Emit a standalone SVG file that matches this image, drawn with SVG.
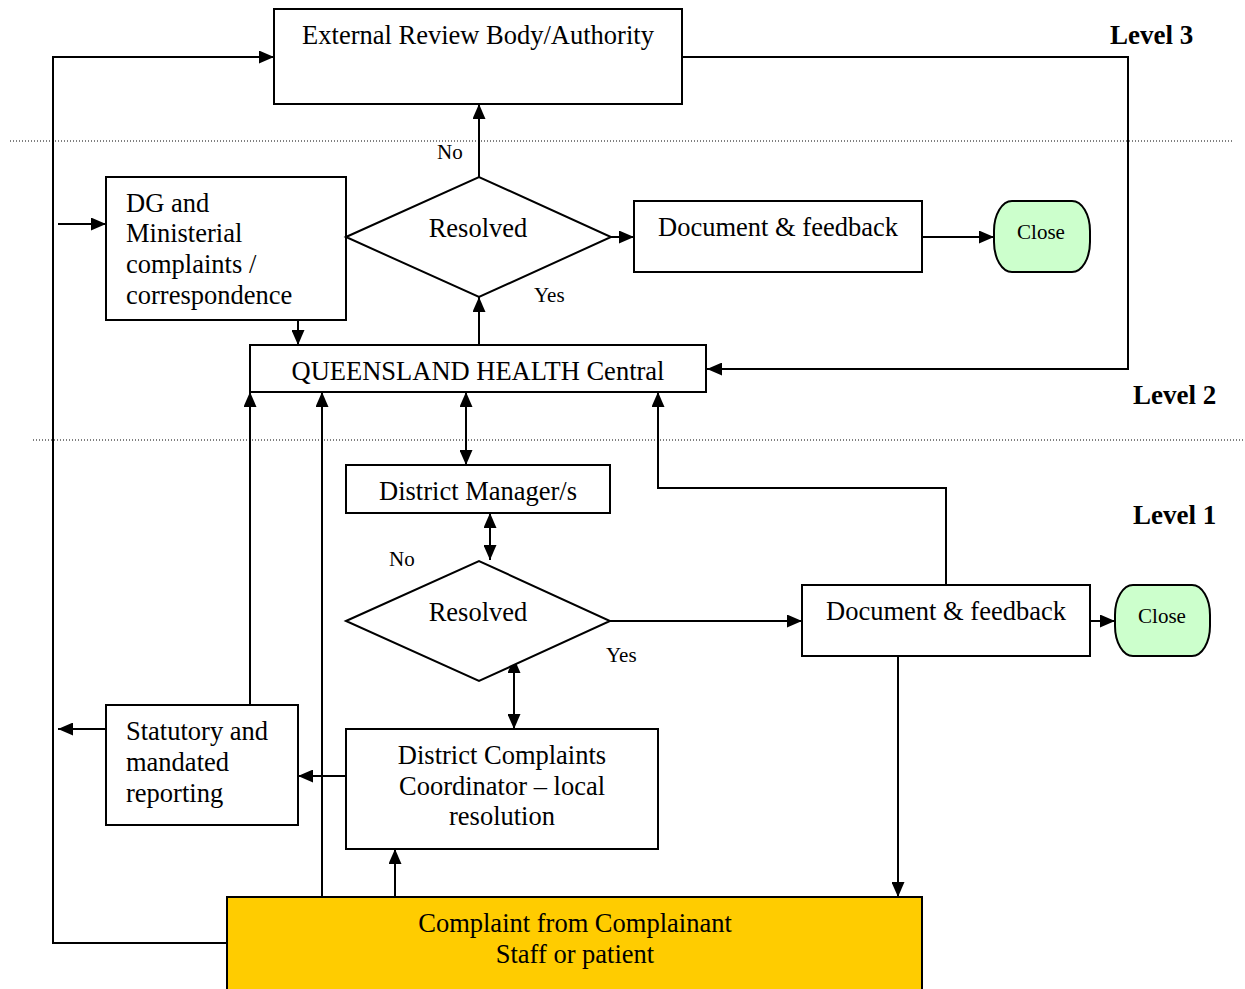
<svg xmlns="http://www.w3.org/2000/svg" width="1245" height="989" viewBox="0 0 1245 989">
  <style>
    .box { fill: #ffffff; stroke: #000000; stroke-width: 2; }
    .close { fill: #ccffcc; stroke: #000000; stroke-width: 2; }
    .complaint { fill: #ffcc00; stroke: #000000; stroke-width: 2; }
    .t { font-family: "Liberation Serif", "Times New Roman", serif; font-size: 26.5px; fill: #000000; }
    .mid { text-anchor: middle; }
    .lbl { font-family: "Liberation Serif", "Times New Roman", serif; font-size: 21px; fill: #000000; }
    .small { font-family: "Liberation Serif", "Times New Roman", serif; font-size: 21px; fill: #000000; text-anchor: middle; }
    .level { font-family: "Liberation Serif", "Times New Roman", serif; font-size: 27px; font-weight: bold; fill: #000000; }
    .wire { fill: none; stroke: #000000; stroke-width: 2; }
    .dots { fill: none; stroke: #000000; stroke-width: 1; stroke-dasharray: 1 2; }
  </style>
  <defs>
    <marker id="arrow" viewBox="0 0 15 13" refX="15" refY="6.5" markerWidth="15" markerHeight="13" markerUnits="userSpaceOnUse" orient="auto-start-reverse">
      <path d="M0,0 L15,6.5 L0,13 z" fill="#000000"/>
    </marker>
  </defs>

  <rect width="1245" height="989" fill="#ffffff"/>

  <!-- level separators -->
  <g id="levels">
    <line class="dots" x1="10" y1="141" x2="1232" y2="141"/>
    <line class="dots" x1="33" y1="440" x2="1245" y2="440"/>
    <text class="level" x="1110" y="44">Level 3</text>
    <text class="level" x="1133" y="404">Level 2</text>
    <text class="level" x="1133" y="524">Level 1</text>
  </g>

  <!-- connectors -->
  <g id="connectors">
    <!-- complaint escalated straight to external body -->
    <polyline class="wire" points="227,943 53,943 53,57 274,57" marker-end="url(#arrow)"/>
    <!-- external body back to QH Central -->
    <polyline class="wire" points="682,57 1128,57 1128,369 707,369" marker-end="url(#arrow)"/>
    <!-- into DG box -->
    <line class="wire" x1="58" y1="224" x2="106" y2="224" marker-end="url(#arrow)"/>
    <!-- upper decision -->
    <line class="wire" x1="479" y1="177" x2="479" y2="104" marker-end="url(#arrow)"/>
    <line class="wire" x1="611" y1="237" x2="634" y2="237" marker-end="url(#arrow)"/>
    <line class="wire" x1="922" y1="237" x2="994" y2="237" marker-end="url(#arrow)"/>
    <line class="wire" x1="479" y1="345" x2="479" y2="297" marker-end="url(#arrow)"/>
    <line class="wire" x1="298" y1="320" x2="298" y2="345" marker-end="url(#arrow)"/>
    <!-- into QH Central from below -->
    <line class="wire" x1="250" y1="705" x2="250" y2="392" marker-end="url(#arrow)"/>
    <line class="wire" x1="322" y1="897" x2="322" y2="392" marker-end="url(#arrow)"/>
    <line class="wire" x1="466" y1="392" x2="466" y2="465" marker-start="url(#arrow)" marker-end="url(#arrow)"/>
    <polyline class="wire" points="946,585 946,488 658,488 658,392" marker-end="url(#arrow)"/>
    <!-- district level -->
    <line class="wire" x1="490" y1="513" x2="490" y2="560" marker-start="url(#arrow)" marker-end="url(#arrow)"/>
    <line class="wire" x1="610" y1="621" x2="802" y2="621" marker-end="url(#arrow)"/>
    <line class="wire" x1="1090" y1="621" x2="1115" y2="621" marker-end="url(#arrow)"/>
    <line class="wire" x1="514" y1="658" x2="514" y2="729" marker-start="url(#arrow)" marker-end="url(#arrow)"/>
    <line class="wire" x1="898" y1="656" x2="898" y2="897" marker-end="url(#arrow)"/>
    <line class="wire" x1="346" y1="776" x2="298" y2="776" marker-end="url(#arrow)"/>
    <line class="wire" x1="106" y1="729" x2="58" y2="729" marker-end="url(#arrow)"/>
    <line class="wire" x1="395" y1="897" x2="395" y2="849" marker-end="url(#arrow)"/>
  </g>

  <!-- edge labels -->
  <g id="edge-labels">
    <text class="lbl" x="437" y="159">No</text>
    <text class="lbl" x="534" y="302">Yes</text>
    <text class="lbl" x="389" y="566">No</text>
    <text class="lbl" x="606" y="662">Yes</text>
  </g>

  <g id="external-review">
    <rect class="box" x="274" y="9" width="408" height="95"/>
    <text class="t mid" x="478" y="44">External Review Body/Authority</text>
  </g>

  <g id="dg-ministerial">
    <rect class="box" x="106" y="177" width="240" height="143"/>
    <text class="t" x="126" y="212">DG and</text>
    <text class="t" x="126" y="242">Ministerial</text>
    <text class="t" x="126" y="273">complaints /</text>
    <text class="t" x="126" y="304">correspondence</text>
  </g>

  <g id="resolved-central">
    <polygon class="box" points="346,237 479,177 611,237 479,297"/>
    <text class="t mid" x="478" y="237">Resolved</text>
  </g>

  <g id="document-central">
    <rect class="box" x="634" y="201" width="288" height="71"/>
    <text class="t mid" x="778" y="236">Document &amp; feedback</text>
  </g>

  <g id="close-central">
    <rect class="close" x="994" y="201" width="96" height="71" rx="18" ry="30"/>
    <text class="small" x="1041" y="239">Close</text>
  </g>

  <g id="qh-central">
    <rect class="box" x="250" y="345" width="456" height="47"/>
    <text class="t mid" x="478" y="380">QUEENSLAND HEALTH Central</text>
  </g>

  <g id="district-manager">
    <rect class="box" x="346" y="465" width="264" height="48"/>
    <text class="t mid" x="478" y="500">District Manager/s</text>
  </g>

  <g id="resolved-district">
    <polygon class="box" points="346,621 479,561 610,621 479,681"/>
    <text class="t mid" x="478" y="621">Resolved</text>
  </g>

  <g id="document-district">
    <rect class="box" x="802" y="585" width="288" height="71"/>
    <text class="t mid" x="946" y="620">Document &amp; feedback</text>
  </g>

  <g id="close-district">
    <rect class="close" x="1115" y="585" width="95" height="71" rx="18" ry="30"/>
    <text class="small" x="1162" y="623">Close</text>
  </g>

  <g id="statutory-reporting">
    <rect class="box" x="106" y="705" width="192" height="120"/>
    <text class="t" x="126" y="740">Statutory and</text>
    <text class="t" x="126" y="771">mandated</text>
    <text class="t" x="126" y="802">reporting</text>
  </g>

  <g id="complaints-coordinator">
    <rect class="box" x="346" y="729" width="312" height="120"/>
    <text class="t mid" x="502" y="764">District Complaints</text>
    <text class="t mid" x="502" y="795">Coordinator – local</text>
    <text class="t mid" x="502" y="825">resolution</text>
  </g>

  <g id="complaint-source">
    <rect class="complaint" x="227" y="897" width="695" height="100"/>
    <text class="t mid" x="575" y="932">Complaint from Complainant</text>
    <text class="t mid" x="575" y="963">Staff or patient</text>
  </g>
</svg>
